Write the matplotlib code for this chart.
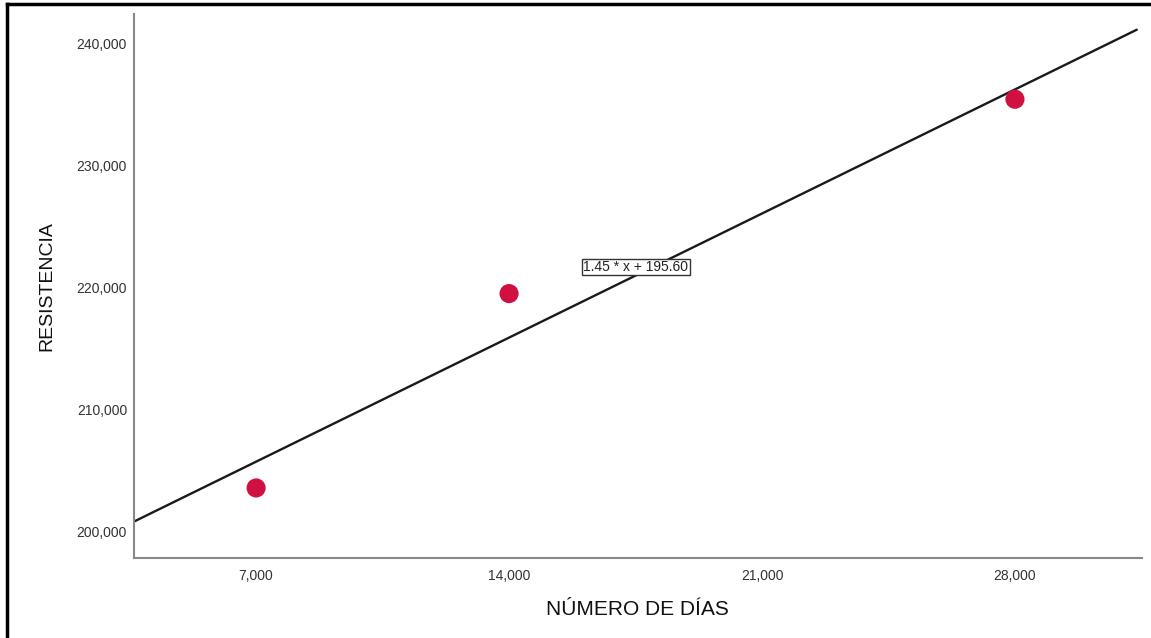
import matplotlib
matplotlib.use("Agg")
import matplotlib.pyplot as plt
from matplotlib.lines import Line2D
from matplotlib.ticker import FuncFormatter

plt.rcParams['font.family'] = ['Liberation Sans', 'DejaVu Sans']

dias = [7, 14, 28]
resistencia = [203.6, 219.5, 235.4]
slope, intercept = 1.45, 195.60
x_ticks = [7, 14, 21, 28]
y_ticks = [200, 210, 220, 230, 240]

fig = plt.figure(figsize=(11.51, 6.38), dpi=100)
ax = fig.add_axes([0.1164, 0.1254, 0.8756, 0.8526])

x0, x1 = 3.62, 31.37
ax.plot([x0, x1], [slope * x0 + intercept, slope * x1 + intercept],
        color="#1a1a1a", lw=1.7, solid_capstyle="round", zorder=2)
ax.scatter(dias, resistencia, s=190, color="#d01040", edgecolors="none", zorder=3)

ax.text(17.51, 221.67, f"{slope:.2f} * x + {intercept:.2f}", fontsize=10,
        ha="center", va="center", color="#222222",
        bbox=dict(boxstyle="square,pad=0.1", fc="white", ec="#333333", lw=1))

ax.set_xlim(3.62, 31.51)
ax.set_ylim(197.87, 242.37)
ax.set_xticks(x_ticks)
ax.set_yticks(y_ticks)
fmt = FuncFormatter(lambda v, p: f"{v:.3f}".replace(".", ","))
ax.xaxis.set_major_formatter(fmt)
ax.yaxis.set_major_formatter(fmt)
ax.tick_params(length=0, labelsize=10, colors="#333333")
ax.tick_params(axis="x", pad=8)
ax.tick_params(axis="y", pad=5)

for s in ["top", "right"]:
    ax.spines[s].set_visible(False)
for s in ["left", "bottom"]:
    ax.spines[s].set_color("#888888")
    ax.spines[s].set_linewidth(1.5)

ax.set_xlabel("NÚMERO DE DÍAS", fontsize=15, labelpad=12, color="#111111")
ax.set_ylabel("RESISTENCIA", fontsize=14, labelpad=15, color="#111111")

# outer frame (left and top edges visible)
fig.add_artist(Line2D([0.0065, 0.0065], [0, 0.994], color="black", lw=2.5))
fig.add_artist(Line2D([0.0065, 1.0], [0.994, 0.994], color="black", lw=2.5))

fig.savefig("out.png", dpi=100)
